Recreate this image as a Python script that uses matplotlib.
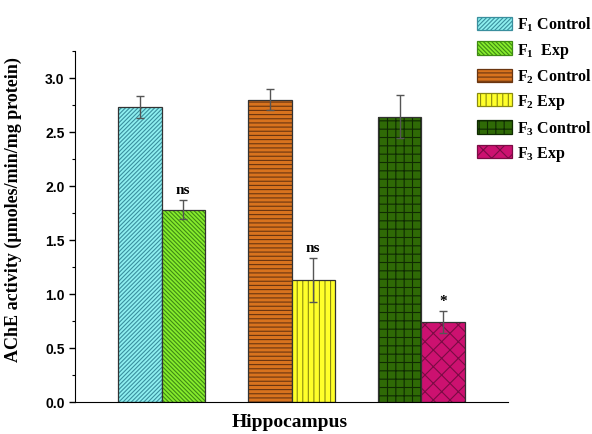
import numpy as np
import matplotlib.pyplot as plt
from matplotlib.patches import Patch
from matplotlib.ticker import MultipleLocator

# AChE activity in hippocampus, control vs exposed, three generations
labels = ['F$_1$ Control', 'F$_1$  Exp', 'F$_2$ Control', 'F$_2$ Exp',
          'F$_3$ Control', 'F$_3$ Exp']
means = [2.73, 1.78, 2.80, 1.13, 2.64, 0.74]
errors = [0.10, 0.09, 0.10, 0.20, 0.20, 0.10]
marks = ['', 'ns', '', 'ns', '', '*']
positions = [0, 1, 3, 4, 6, 7]

fills = ['#8ef0f0', '#86ec2c', '#d8731e', '#ffff2a', '#2f6a06', '#cc1170']
hatch_cols = ['#3a8f9e', '#3f8a14', '#6a3510', '#8a8a10', '#0f2a02', '#7a0c44']
hatches = ['////////', '\\\\\\\\\\\\\\\\', '----', '|||', '++', 'xx']

plt.rcParams['hatch.linewidth'] = 0.8
plt.rcParams['mathtext.fontset'] = 'custom'
plt.rcParams['mathtext.rm'] = 'Liberation Serif:bold'
plt.rcParams['mathtext.it'] = 'Liberation Serif:bold'
plt.rcParams['mathtext.bf'] = 'Liberation Serif:bold'

fig = plt.figure(figsize=(5.92, 4.35), dpi=100)
ax = fig.add_axes([75 / 592, 32 / 435, 433 / 592, 351 / 435])

handles = []
for x, m, fc, hc, h, lab in zip(positions, means, fills, hatch_cols, hatches, labels):
    ax.bar(x, m, width=1.0, color=fc, edgecolor=hc, hatch=h, linewidth=0)
    ax.bar(x, m, width=1.0, fill=False, edgecolor='#333333', linewidth=0.9)
    handles.append(Patch(facecolor=fc, edgecolor=hc, hatch=h, linewidth=0.9, label=lab))

ax.errorbar(positions, means, yerr=errors, fmt='none', ecolor='#555555',
            elinewidth=1.0, capsize=3, capthick=1.0)

for x, m, e, s in zip(positions, means, errors, marks):
    if s:
        ax.text(x, m + e + 0.04, s, ha='center', va='bottom', fontsize=11,
                fontweight='bold', family='Liberation Serif')

ax.set_xlim(-1.5, 8.5)
ax.set_ylim(0, 3.25)
ax.yaxis.set_major_locator(MultipleLocator(0.5))
ax.yaxis.set_minor_locator(MultipleLocator(0.25))
ax.set_xticks([])
ax.spines['top'].set_visible(False)
ax.spines['right'].set_visible(False)
ax.tick_params(axis='y', which='major', length=4, width=1, direction='out')
ax.tick_params(axis='y', which='minor', length=2, width=0.8, direction='out')
for t in ax.get_yticklabels():
    t.set_family('Liberation Sans')
    t.set_fontweight('bold')
    t.set_fontsize(10)

ax.set_ylabel('AChE activity (\u00b5moles/min/mg protein)', fontsize=13,
              fontweight='bold', family='Liberation Serif')
ax.yaxis.set_label_coords(-0.122, 0.55)
ax.set_xlabel('Hippocampus', fontsize=14, fontweight='bold', family='Liberation Serif')
ax.xaxis.set_label_coords(0.495, -0.03)

fig.legend(handles=handles, loc='upper left', bbox_to_anchor=(477 / 592, 1 - 16 / 435),
           frameon=False, borderpad=0, borderaxespad=0, handlelength=2.2,
           handleheight=0.9, handletextpad=0.3, labelspacing=0.45,
           prop={'family': 'Liberation Serif', 'weight': 'bold', 'size': 11.5})

fig.savefig('out.png', dpi=100)
